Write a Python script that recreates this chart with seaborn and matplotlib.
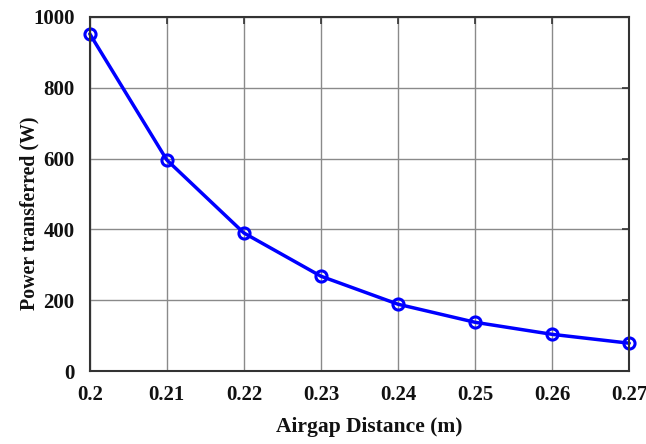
import matplotlib
matplotlib.use("Agg")
import matplotlib.pyplot as plt
import seaborn as sns
import pandas as pd

airgap = [0.20, 0.21, 0.22, 0.23, 0.24, 0.25, 0.26, 0.27]
power = [952, 596, 390, 268, 189, 138, 104, 79]
xticks = [0.2, 0.21, 0.22, 0.23, 0.24, 0.25, 0.26, 0.27]
xtick_labels = ["0.2", "0.21", "0.22", "0.23", "0.24", "0.25", "0.26", "0.27"]
yticks = [0, 200, 400, 600, 800, 1000]

sns.set_style("whitegrid")
plt.rcParams['font.family'] = ['Liberation Serif', 'DejaVu Serif']

df = pd.DataFrame({"x": airgap, "y": power})
fig = plt.figure(figsize=(6.46, 4.44), dpi=100)
ax = fig.add_axes([0.139, 0.164, 0.835, 0.798])
sns.lineplot(data=df, x="x", y="y", ax=ax, color="#0000ff", linewidth=2.5,
             marker="o", markersize=8, markerfacecolor="none",
             markeredgecolor="#0000ff", markeredgewidth=2.2, clip_on=False)
ax.set_xlim(0.2, 0.27)
ax.set_ylim(0, 1000)
ax.set_xticks(xticks)
ax.set_xticklabels(xtick_labels)
ax.set_yticks(yticks)
ax.grid(True, color="#8a8a8a", linewidth=1.0)
for s in ax.spines.values():
    s.set_visible(True)
    s.set_color("#333333")
    s.set_linewidth(1.5)
ax.tick_params(direction="in", length=5, width=1.2, colors="#333333",
               top=True, right=True, labelsize=15, labelcolor="#111111")
ax.tick_params(axis="x", pad=10)
ax.tick_params(axis="y", pad=11)
for lbl in ax.get_xticklabels() + ax.get_yticklabels():
    lbl.set_fontweight("bold")
ax.set_xlabel("Airgap Distance (m)", fontsize=15.5, fontweight="bold", color="#111111")
ax.set_ylabel("Power transferred (W)", fontsize=14.3, fontweight="bold", color="#111111")
ax.xaxis.set_label_coords(0.519, -0.128)
ax.yaxis.set_label_coords(-0.093, 0.445)
fig.savefig("out.png", dpi=100)
